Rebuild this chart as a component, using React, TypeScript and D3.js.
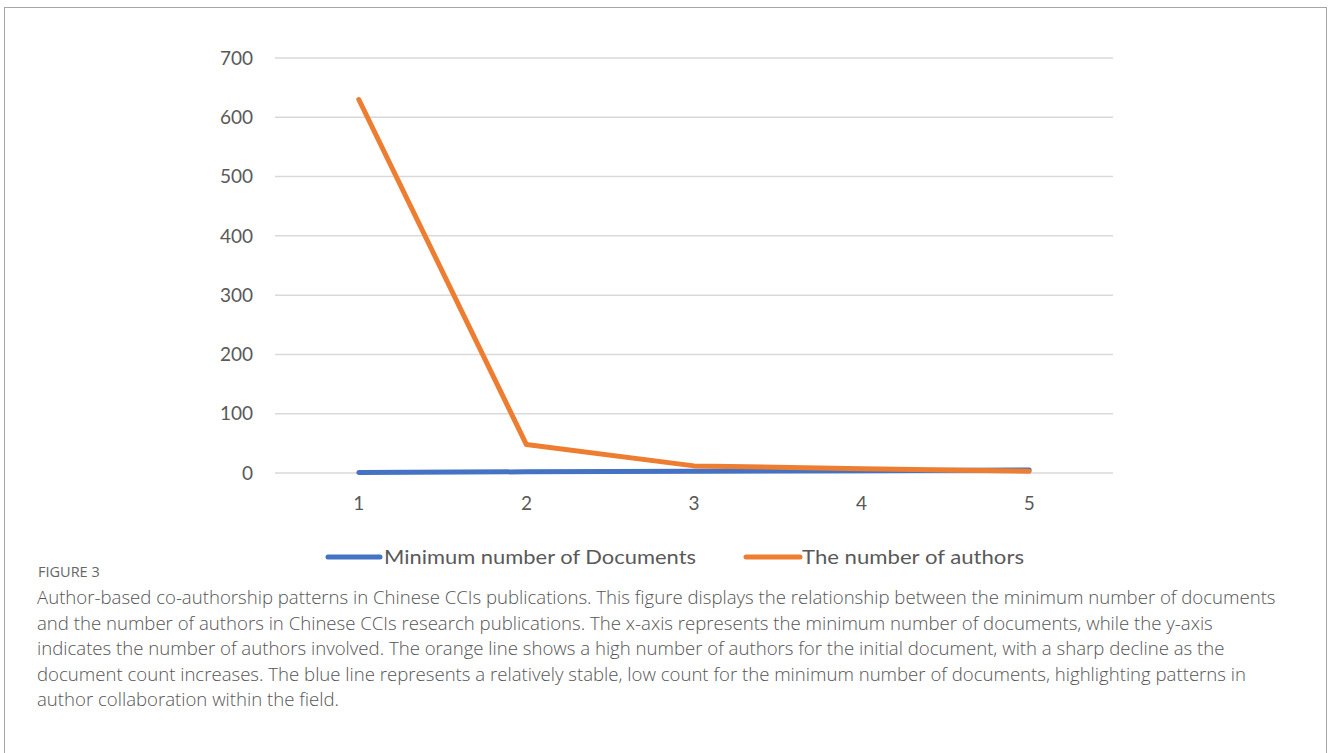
import React from "react";
import * as d3 from "d3";

const categories = ["1", "2", "3", "4", "5"];
const minDocs = [1, 2, 3, 4, 5];
const numAuthors = [630, 48, 12, 7, 3];
const yTicks = [0, 100, 200, 300, 400, 500, 600, 700];
const seriesNames = ["Minimum number of Documents", "The number of authors"];
const seriesColors = ["#4472C4", "#ED7D31"];
const captionTitle = "FIGURE 3";
const captionLines = [
  "Author-based co-authorship patterns in Chinese CCIs publications. This figure displays the relationship between the minimum number of documents",
  "and the number of authors in Chinese CCIs research publications. The x-axis represents the minimum number of documents, while the y-axis",
  "indicates the number of authors involved. The orange line shows a high number of authors for the initial document, with a sharp decline as the",
  "document count increases. The blue line represents a relatively stable, low count for the minimum number of documents, highlighting patterns in",
  "author collaboration within the field.",
];

export default function App() {
  const W = 1328, H = 753;
  const left = 275, right = 1113, top = 58, bottom = 473;
  const x = d3.scaleBand<string>().domain(categories).range([left, right]);
  const y = d3.scaleLinear().domain([0, 700]).range([bottom, top]);
  const cx = (c: string) => (x(c) as number) + x.bandwidth() / 2;
  const line = d3.line<number>().x((_, i) => cx(categories[i])).y((d) => y(d));
  const series = [minDocs, numAuthors];
  const chartFont = "Lato, 'Open Sans', sans-serif";
  const legendItems = [
    { x1: 328, x2: 380, tx: 384, len: 312 },
    { x1: 746, x2: 800, tx: 802, len: 222 },
  ];
  return (
    <svg width={W} height={H} style={{ position: "absolute", left: 0, top: 0, background: "#fff" }}>
      <rect x={4.5} y={7.5} width={1322} height={760} fill="#fff" stroke="#a6a6a6" strokeWidth={1} />
      {yTicks.map((t) => (
        <g key={t}>
          <line x1={left} x2={right} y1={y(t)} y2={y(t)} stroke="#d9d9d9" strokeWidth={1.5} />
          <text x={253} y={y(t)} dy="0.35em" textAnchor="end" fontFamily={chartFont} fontSize={19} fill="#595959">
            {t}
          </text>
        </g>
      ))}
      {categories.map((c) => (
        <text key={c} x={cx(c)} y={503} dy="0.35em" textAnchor="middle" fontFamily={chartFont} fontSize={19} fill="#595959">
          {c}
        </text>
      ))}
      {series.map((s, i) => (
        <path key={i} d={line(s) as string} fill="none" stroke={seriesColors[i]} strokeWidth={5} strokeLinejoin="round" strokeLinecap="round" />
      ))}
      {legendItems.map((l, i) => (
        <g key={i}>
          <line x1={l.x1} x2={l.x2} y1={557} y2={557} stroke={seriesColors[i]} strokeWidth={5} strokeLinecap="round" />
          <text x={l.tx} y={557} dy="0.35em" fontFamily={chartFont} fontSize={20} fill="#595959" textLength={l.len} lengthAdjust="spacingAndGlyphs">
            {seriesNames[i]}
          </text>
        </g>
      ))}
      <text x={38} y={577} fontFamily="'Open Sans', sans-serif" fontSize={14.5} fill="#666">
        {captionTitle}
      </text>
      {captionLines.map((t, i) => (
        <text key={i} x={37} y={604 + i * 25.5} fontFamily="'Open Sans', sans-serif" fontWeight={300} fontSize={18.6} fill="#555">
          {t}
        </text>
      ))}
    </svg>
  );
}
